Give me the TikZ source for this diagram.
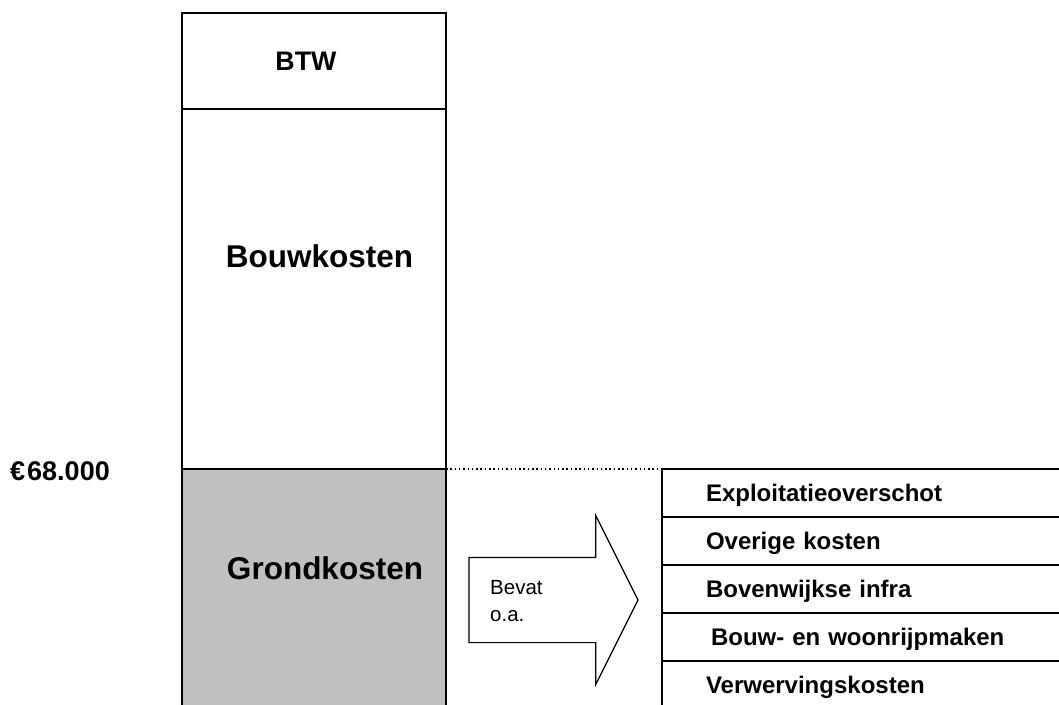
\documentclass[tikz,border=0pt]{standalone}
\usepackage{fontspec}
\setmainfont{Liberation Sans}
\usetikzlibrary{shapes,arrows,positioning}
\definecolor{grondgrijs}{HTML}{C0C0C0}
\tikzstyle{stackbox} = [rectangle, draw, line width=2pt, minimum width=264pt,
    inner sep=0pt, outer sep=0pt]
\tikzstyle{costrow} = [rectangle, draw, line width=1.7pt, minimum width=420pt,
    minimum height=48pt, text width=332pt, inner xsep=44pt, inner ysep=0pt,
    outer sep=0pt, align=left, text height=17pt, text depth=0pt,
    font=\bfseries\fontsize{24}{28}\selectfont]
\tikzstyle{bigtext} = [inner sep=0pt, anchor=base,
    font=\bfseries\fontsize{31.5}{36}\selectfont]
\tikzstyle{line} = [draw, line width=1.5pt, dash pattern=on 1.5pt off 2.8pt]
\tikzstyle{bigarrow} = [single arrow, draw, line width=1.2pt,
    minimum height=169pt, minimum width=168pt, single arrow head extend=42pt,
    single arrow tip angle=126.87, inner xsep=0pt, inner ysep=42pt,
    outer sep=0pt]

\begin{document}
\begin{tikzpicture}[x=1pt, y=1pt]
        \useasboundingbox (0,0) rectangle (1059,704);
        % Place column
        \node (btw) [stackbox, minimum height=96pt] at (314,643) {};
        \path (btw.center)+(-8,0) node (btwtxt) [inner sep=0pt,
            font=\bfseries\fontsize{26.8}{32}\selectfont] {BTW};
        \node (bouw) [stackbox, minimum height=360pt, below=0pt of btw] {};
        \node (grond) [stackbox, minimum height=262pt, fill=grondgrijs,
            below=0pt of bouw] {};
        \path (bouw.center)+(5.5,21) node (bouwtxt) [bigtext] {Bouwkosten};
        \path (grond.north)+(11,-110) node (grondtxt) [bigtext] {Grondkosten};
        \path (grond.north west)+(-172,-2) node (prijs) [anchor=west, inner sep=0pt,
            font=\bfseries\fontsize{27}{30}\selectfont] {€\kern2pt68.000};

        % Arrow
        \path (grond.east)+(23,0) node (pijl) [bigarrow, anchor=tail] {};
        \path (pijl.tail)+(21,-1) node (bevat) [anchor=west, inner sep=0pt,
            align=left, font=\fontsize{20.5}{27}\selectfont] {Bevat\\o.a.};

        % Grondkosten rows
        \path (grond.north east)+(216,0) node (expl) [costrow, anchor=north west]
            {Exploitatieoverschot};
        \path [line] (grond.north east) -- (expl.north west);
        \node (overig) [costrow, below=0pt of expl] {Overige kosten};
        \node (infra) [costrow, below=0pt of overig] {Bovenwijkse infra};
        \node (rijp) [costrow, below=0pt of infra] {\hspace*{5pt}Bouw- en woonrijpmaken};
        \node (verw) [costrow, below=0pt of rijp] {Verwervingskosten};
\end{tikzpicture}
\end{document}
